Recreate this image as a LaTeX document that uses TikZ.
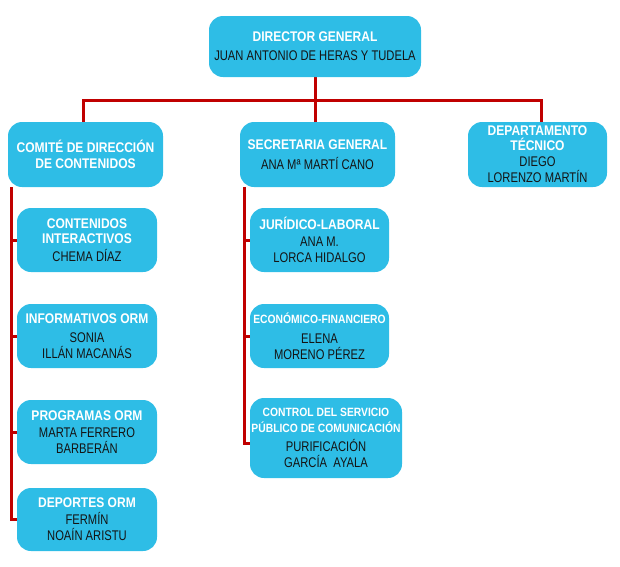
\documentclass[tikz,border=0pt]{standalone}
\usepackage{fontspec}
\setmainfont{Liberation Sans}[FakeStretch=0.8, BoldFeatures={FakeStretch=0.86}]
\usetikzlibrary{backgrounds}
\definecolor{boxblue}{RGB}{46,189,230}
\definecolor{linered}{RGB}{192,0,0}
\definecolor{nametext}{RGB}{20,20,20}
\newcommand\hd[1]{{\color{white}\bfseries #1}}
\newcommand\hdsmall[1]{{\fontsize{12}{12.7}\selectfont\color{white}\bfseries #1}}
\tikzset{
  orgbox/.style={fill=boxblue, draw=none, rounded corners=14pt, inner sep=0pt,
    align=center, text=nametext, font=\fontsize{14}{16}\selectfont},
  link/.style={draw=linered, line width=3pt}
}
\begin{document}
\begin{tikzpicture}[x=1pt,y=-1pt]
\useasboundingbox (0,0) rectangle (620,566);
% boxes
\node[orgbox, minimum width=212pt, minimum height=61pt] (dir) at (315,46.5)
  {\hd{DIRECTOR GENERAL}\\[3pt] JUAN ANTONIO DE HERAS Y TUDELA};
\node[orgbox, minimum width=155pt, minimum height=65pt] (com) at (85.5,154.5)
  {\hd{COMITÉ DE DIRECCIÓN}\\ \hd{DE CONTENIDOS}};
\node[orgbox, minimum width=155pt, minimum height=65pt] (sec) at (317.5,154.5)
  {\hd{SECRETARIA GENERAL}\\[4pt] ANA Mª MARTÍ CANO};
\node[orgbox, minimum width=139pt, minimum height=65pt] (dep) at (537.5,154.5)
  {\hd{DEPARTAMENTO}\\[-1pt] \hd{TÉCNICO}\\ DIEGO\\ LORENZO MARTÍN};
\node[orgbox, minimum width=140pt, minimum height=64pt] (cont) at (87,240)
  {\hd{CONTENIDOS}\\[-1pt] \hd{INTERACTIVOS}\\[2pt] CHEMA DÍAZ};
\node[orgbox, minimum width=140pt, minimum height=64pt] (inf) at (87,336)
  {\hd{INFORMATIVOS ORM}\\[3pt] SONIA\\ ILLÁN MACANÁS};
\node[orgbox, minimum width=140pt, minimum height=64pt] (prog) at (87,432)
  {\hd{PROGRAMAS ORM}\\[1pt] MARTA FERRERO\\ BARBERÁN};
\node[orgbox, minimum width=140pt, minimum height=63pt] (depo) at (87,519.5)
  {\hd{DEPORTES ORM}\\[1pt] FERMÍN\\ NOAÍN ARISTU};
\node[orgbox, minimum width=139pt, minimum height=64pt] (jur) at (319.5,240)
  {\hd{JURÍDICO-LABORAL}\\[1pt] ANA M.\\ LORCA HIDALGO};
\node[orgbox, minimum width=139pt, minimum height=64pt] (eco) at (319.5,336)
  {\hdsmall{ECONÓMICO-FINANCIERO}\\[4pt] ELENA\\ MORENO PÉREZ};
\node[orgbox, minimum width=152pt, minimum height=80pt] (ctl) at (326,438)
  {\hdsmall{CONTROL DEL SERVICIO}\\ \hdsmall{PÚBLICO DE COMUNICACIÓN}\\[3pt] PURIFICACIÓN\\ GARCÍA\ \ AYALA};
% connectors (behind the boxes)
\begin{scope}[on background layer]
\coordinate (bar) at ([yshift=-23pt]dir.south);
\coordinate (ls) at ([xshift=4pt]com.south west);
\coordinate (ms) at ([xshift=5pt]sec.south west);
\draw[link] (dir.south) -- (dir.south |- sec.north);
\draw[link] ([xshift=-2.5pt]com.north) |- (bar) -| ([xshift=3.5pt]dep.north);
\draw[link] (ls) |- (depo.west);
\draw[link] (ls |- cont.west) -- (cont.west);
\draw[link] (ls |- inf.west) -- (inf.west);
\draw[link] (ls |- prog.west) -- (prog.west);
\draw[link] (ms) |- ([yshift=-5pt]ctl.west);
\draw[link] (ms |- jur.west) -- (jur.west);
\draw[link] (ms |- eco.west) -- (eco.west);
\end{scope}
\end{tikzpicture}
\end{document}
